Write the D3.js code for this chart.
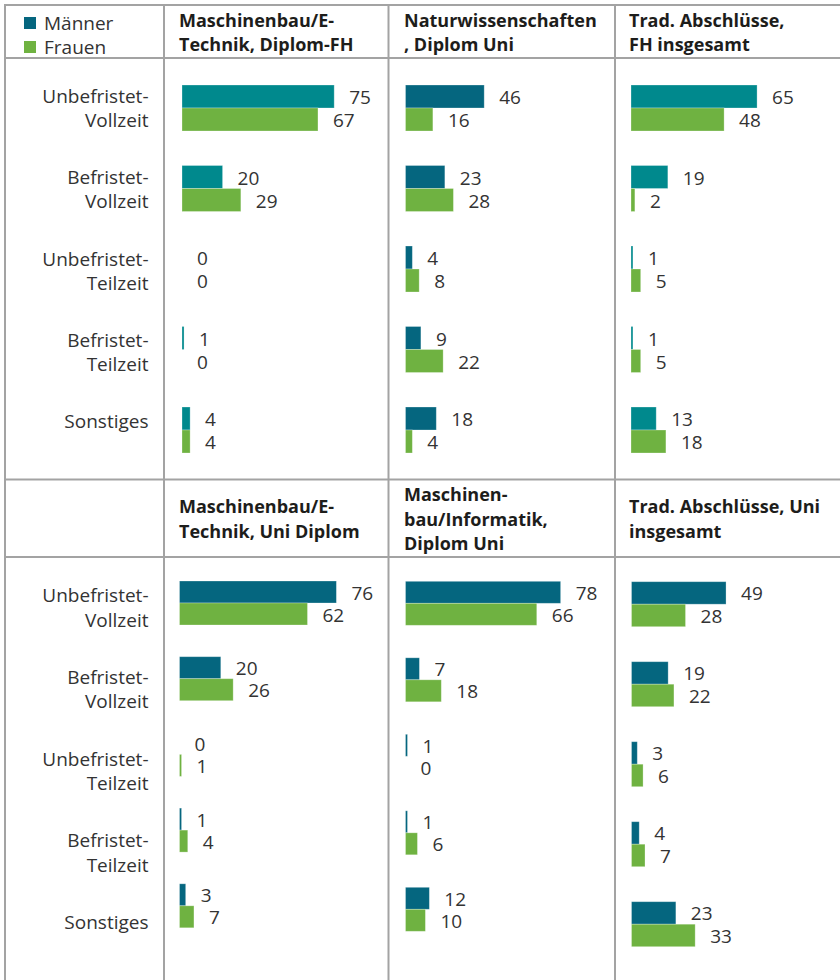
<!DOCTYPE html>
<html lang="de">
<head>
    <meta charset="UTF-8">
    <title>Beschäftigungsform nach Abschluss</title>
    <script src="https://cdnjs.cloudflare.com/ajax/libs/d3/7.8.5/d3.min.js"></script>
    <style>
        body {
            margin: 0;
            background-color: white;
        }
        svg {
            display: block;
            font-family: "Open Sans", "Noto Sans", sans-serif;
        }
        .cat-label { font-size: 19px; fill: #333; }
        .val-label { font-size: 19px; fill: #333; }
        .head-label { font-size: 18px; font-weight: 700; fill: #1d1d1b; }
        .legend-label { font-size: 19px; fill: #333; }
    </style>
</head>
<body>
    <svg id="chart" width="840" height="980"></svg>

    <script>
        // Data
        const categories = ["Unbefristet-Vollzeit", "Befristet-Vollzeit", "Unbefristet-Teilzeit", "Befristet-Teilzeit", "Sonstiges"];
        const categoryLines = [["Unbefristet-", "Vollzeit"], ["Befristet-", "Vollzeit"], ["Unbefristet-", "Teilzeit"], ["Befristet-", "Teilzeit"], ["Sonstiges"]];
        const seriesNames = ["Männer", "Frauen"];

        const topTitles = [
            ["Maschinenbau/E-", "Technik, Diplom-FH"],
            ["Naturwissenschaften", ", Diplom Uni"],
            ["Trad. Abschlüsse,", "FH insgesamt"]
        ];
        const bottomTitles = [
            ["Maschinenbau/E-", "Technik, Uni Diplom"],
            ["Maschinen-", "bau/Informatik,", "Diplom Uni"],
            ["Trad. Abschlüsse, Uni", "insgesamt"]
        ];

        const topMen = [[75, 20, 0, 1, 4], [46, 23, 4, 9, 18], [65, 19, 1, 1, 13]];
        const topWomen = [[67, 29, 0, 0, 4], [16, 28, 8, 22, 4], [48, 2, 5, 5, 18]];
        const bottomMen = [[76, 20, 0, 1, 3], [78, 7, 1, 1, 12], [49, 19, 3, 4, 23]];
        const bottomWomen = [[62, 26, 1, 4, 7], [66, 18, 0, 6, 10], [28, 22, 6, 7, 33]];

        // Colors
        const teal = "#00898d";
        const darkTeal = "#05667f";
        const green = "#6fb241";
        const gridColor = "#a3a3a3";

        // Layout (each small chart had its own axis scale and row spacing)
        const barRange = 180;
        const topLayout = [
            { x0: 182, max: 88.7, c0: 108, step: 80.5, bh: 23, men: teal },
            { x0: 405.5, max: 105.2, c0: 108, step: 80.5, bh: 23, men: darkTeal },
            { x0: 631, max: 92.8, c0: 108, step: 80.5, bh: 23, men: teal }
        ];
        const bottomLayout = [
            { x0: 179.5, max: 87.2, c0: 603, step: 75.7, bh: 22, men: darkTeal },
            { x0: 405.5, max: 90.5, c0: 603.3, step: 76.5, bh: 22, men: darkTeal },
            { x0: 631.5, max: 93.3, c0: 604.2, step: 80, bh: 22.5, men: darkTeal }
        ];
        const titleX = [179, 404, 629];

        const svg = d3.select("#chart");

        svg.append("rect")
            .attr("width", 840)
            .attr("height", 980)
            .attr("fill", "white");

        // Table grid
        const grid = svg.append("g")
            .attr("stroke", gridColor)
            .attr("stroke-width", 2)
            .attr("fill", "none");

        [5, 58, 479.5, 557].forEach(y => {
            grid.append("line").attr("x1", 4).attr("x2", 840).attr("y1", y).attr("y2", y);
        });
        [5, 164, 388.5, 615].forEach(x => {
            grid.append("line").attr("x1", x).attr("x2", x).attr("y1", 4).attr("y2", 980);
        });

        // Legend
        const legend = svg.append("g");
        [darkTeal, green].forEach((c, i) => {
            legend.append("rect")
                .attr("x", 24)
                .attr("y", 17 + i * 24)
                .attr("width", 12)
                .attr("height", 12)
                .attr("fill", c);
            legend.append("text")
                .attr("class", "legend-label")
                .attr("x", 44)
                .attr("y", 29.5 + i * 24)
                .text(seriesNames[i]);
        });

        // Category labels (first line baseline stepped per block)
        function drawCategories(firstBaseline, step) {
            const g = svg.append("g");
            categoryLines.forEach((lines, i) => {
                const t = g.append("text")
                    .attr("class", "cat-label")
                    .attr("text-anchor", "end");
                lines.forEach((line, j) => {
                    t.append("tspan")
                        .attr("x", 148.5)
                        .attr("y", firstBaseline + i * step + j * 24.3)
                        .text(line);
                });
            });
        }
        drawCategories(102.7, 81.4);
        drawCategories(602.3, 81.7);

        // Panel titles
        function drawTitles(titles, mid) {
            titles.forEach((lines, i) => {
                const first = mid - (lines.length - 1) * 24.5 / 2;
                const t = svg.append("text").attr("class", "head-label");
                lines.forEach((line, j) => {
                    t.append("tspan")
                        .attr("x", titleX[i])
                        .attr("y", first + j * 24.5)
                        .text(line);
                });
            });
        }
        drawTitles(topTitles, 39.2);
        drawTitles(bottomTitles, 525.5);

        // Bar panels
        function drawPanel(layout, men, women) {
            const x = d3.scaleLinear()
                .domain([0, layout.max])
                .range([layout.x0, layout.x0 + barRange]);
            const y = d3.scalePoint()
                .domain(categories)
                .range([layout.c0, layout.c0 + 4 * layout.step]);

            const rows = categories.map((c, i) => ({ cat: c, men: men[i], women: women[i] }));
            const g = svg.append("g");

            const series = [
                { key: "men", color: layout.men, offset: -layout.bh },
                { key: "women", color: green, offset: 0 }
            ];

            series.forEach(s => {
                g.selectAll(null)
                    .data(rows.filter(d => d[s.key] > 0))
                    .enter()
                    .append("rect")
                    .attr("x", x(0))
                    .attr("y", d => y(d.cat) + s.offset)
                    .attr("width", d => x(d[s.key]) - x(0))
                    .attr("height", layout.bh)
                    .attr("fill", s.color)
                    .attr("stroke", "rgba(255,255,255,0.35)")
                    .attr("stroke-width", 0.8);

                g.selectAll(null)
                    .data(rows)
                    .enter()
                    .append("text")
                    .attr("class", "val-label")
                    .attr("x", d => x(d[s.key]) + 15)
                    .attr("y", d => y(d.cat) + s.offset + layout.bh / 2 + 7.5)
                    .text(d => d[s.key]);
            });
        }

        topLayout.forEach((l, i) => drawPanel(l, topMen[i], topWomen[i]));
        bottomLayout.forEach((l, i) => drawPanel(l, bottomMen[i], bottomWomen[i]));
    </script>
</body>
</html>
